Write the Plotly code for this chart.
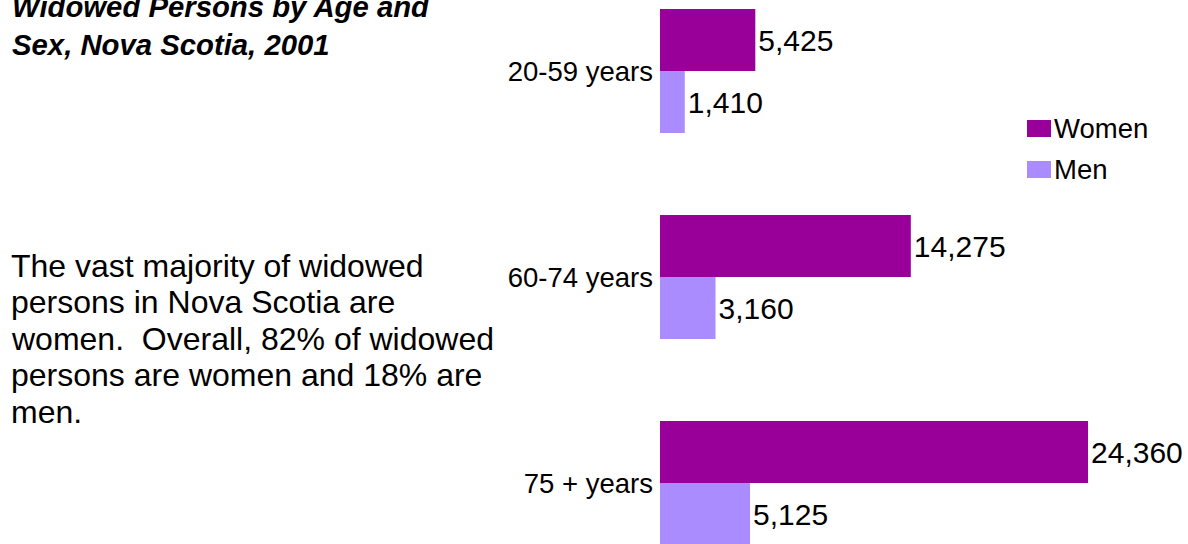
import plotly.graph_objects as go

# Widowed persons by age group and sex, Nova Scotia, 2001
age_groups = ["20-59 years", "60-74 years", "75 + years"]
series_names = ["Women", "Men"]
women = [5425, 14275, 24360]
men = [1410, 3160, 5125]
series_colors = ["#990099", "#AA8CFF"]

title_lines = ["Widowed Persons by Age and", "Sex, Nova Scotia, 2001"]
body_lines = [
    "The vast majority of widowed",
    "persons in Nova Scotia are",
    "women.  Overall, 82% of widowed",
    "persons are women and 18% are",
    "men.",
]

W, H = 1188, 544
FONT = "Liberation Sans, Arial, sans-serif"

fig = go.Figure()
for name, vals, color in zip(series_names, [women, men], series_colors):
    fig.add_trace(go.Bar(
        name=name,
        y=age_groups,
        x=vals,
        orientation="h",
        marker=dict(color=color, line=dict(width=0)),
        text=[f"{v:,}" for v in vals],
        textposition="outside",
        textangle=0,
        constraintext="none",
        cliponaxis=False,
        textfont=dict(family=FONT, size=30, color="black"),
        showlegend=False,
    ))


def px_x(x):
    return x / W


def px_y(y):
    return 1 - y / H


annotations = []
# title, bold italic, two lines
for i, line in enumerate(title_lines):
    annotations.append(dict(
        text=f"<b><i>{line}</i></b>", xref="paper", yref="paper",
        x=px_x(10), y=px_y(7 + i * 37), xanchor="left", yanchor="middle",
        showarrow=False, font=dict(family=FONT, size=29.3, color="black"),
    ))
# descriptive paragraph
for i, line in enumerate(body_lines):
    annotations.append(dict(
        text=line, xref="paper", yref="paper",
        x=px_x(9), y=px_y(265.5 + i * 36.5), xanchor="left", yanchor="middle",
        showarrow=False, font=dict(family=FONT, size=32, color="black"),
    ))

# legend drawn as swatches with labels
shapes = []
for i, (name, color) in enumerate(zip(series_names, series_colors)):
    top = 120 + i * 41
    shapes.append(dict(
        type="rect", xref="paper", yref="paper",
        x0=px_x(1027), x1=px_x(1051), y0=px_y(top), y1=px_y(top + 17),
        fillcolor=color, line=dict(width=0),
    ))
    annotations.append(dict(
        text=name, xref="paper", yref="paper",
        x=px_x(1052), y=px_y(top + 8.5), xanchor="left", yanchor="middle",
        showarrow=False, font=dict(family=FONT, size=27.5, color="black"),
    ))

fig.update_layout(
    width=W, height=H,
    margin=dict(l=0, r=0, t=0, b=0),
    paper_bgcolor="white", plot_bgcolor="white",
    barmode="group", bargap=0.398, bargroupgap=0,
    xaxis=dict(domain=[660 / W, 1], range=[0, 30050], visible=False, fixedrange=True),
    yaxis=dict(
        range=[2.2961, -0.3447], showgrid=False, zeroline=False, showline=False,
        ticks="", ticklabelstandoff=6,
        tickfont=dict(family=FONT, size=27.5, color="black"),
    ),
    annotations=annotations,
    shapes=shapes,
)

fig.write_html("out.html")
